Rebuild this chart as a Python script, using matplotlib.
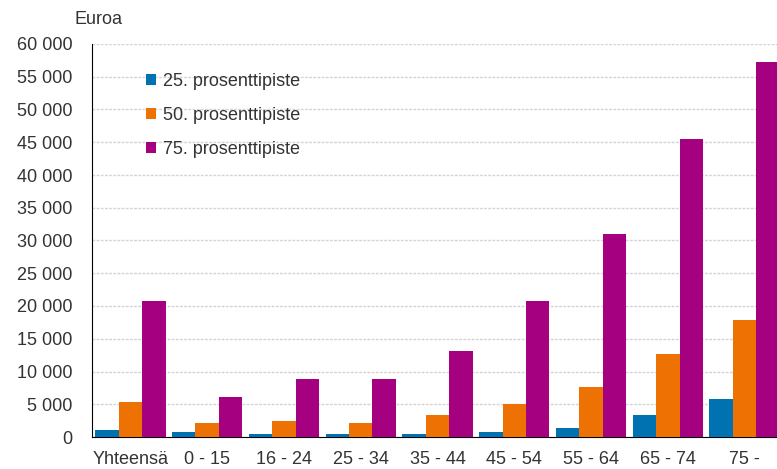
import numpy as np
import matplotlib.pyplot as plt

plt.rcParams['font.family'] = ['Liberation Sans', 'DejaVu Sans']

# --- DATA ---
groups = ['Yhteensä', '0 - 15', '16 - 24', '25 - 34', '35 - 44',
          '45 - 54', '55 - 64', '65 - 74', '75 -']
p25 = [1100, 700, 500, 500, 500, 800, 1400, 3400, 5800]
p50 = [5400, 2200, 2400, 2200, 3400, 5100, 7600, 12700, 17900]
p75 = [20800, 6100, 8800, 8800, 13100, 20800, 31000, 45500, 57200]
series_names = ['25. prosenttipiste', '50. prosenttipiste', '75. prosenttipiste']
colors = ['#0072b2', '#ee7203', '#a5007f']
yticks = list(range(0, 60001, 5000))

# --- PLOT ---
fig = plt.figure(figsize=(7.77, 4.69), dpi=100)
ax = fig.add_axes([92 / 777, 32 / 469, 691 / 777, 393 / 469])

x = np.arange(len(groups))
w = 0.305
for i, (vals, name, c) in enumerate(zip([p25, p50, p75], series_names, colors)):
    ax.bar(x + (i - 1) * w, vals, width=w, color=c, label=name, zorder=3)

ax.set_xlim(-0.5, len(groups) - 0.5)
ax.set_ylim(0, 60000)
ax.set_yticks(yticks)
ax.set_yticklabels([f'{v:,}'.replace(',', ' ') for v in yticks])
ax.set_xticks(x)
ax.set_xticklabels(groups)
ax.tick_params(axis='both', length=0, labelsize=13, colors='#333333')
ax.tick_params(axis='x', pad=10)
ax.tick_params(axis='y', pad=14)

ax.grid(axis='y', color='#d4d4d4', linestyle=(0, (2, 1)), linewidth=1, zorder=0)
for s in ['top', 'right']:
    ax.spines[s].set_visible(False)
ax.spines['left'].set_color('black')
ax.spines['bottom'].set_color('black')

fig.text(75 / 777, 1 - 20 / 469, 'Euroa', fontsize=13, color='#333333', va='center')

ax.legend(loc='upper left', bbox_to_anchor=(0.055, 0.968), frameon=False,
          fontsize=13, handlelength=0.55, handleheight=0.55, handletextpad=0.35,
          labelspacing=0.95, labelcolor='#333333')

fig.savefig('out.png', dpi=100)
